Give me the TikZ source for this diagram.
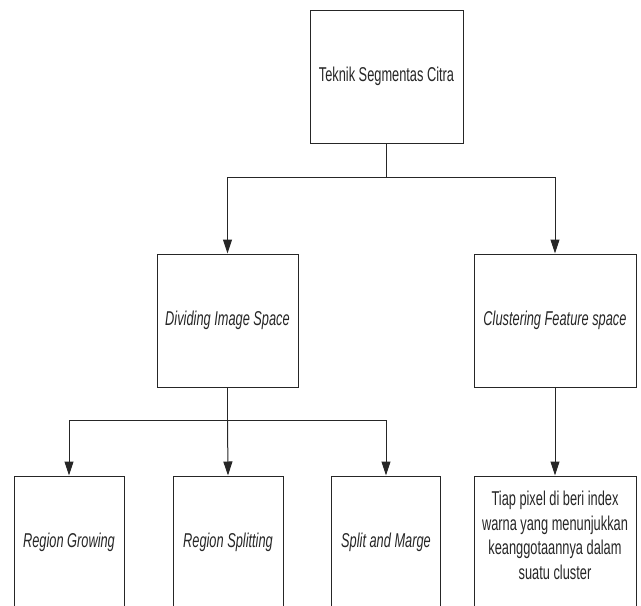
\documentclass[tikz,border=0pt]{standalone}
\usepackage{fontspec}
\setmainfont[FakeStretch=0.64]{Liberation Sans}
\usetikzlibrary{arrows.meta}

\begin{document}
\begin{tikzpicture}[x=1pt,y=-1pt,
	kotak/.style={draw=black!85, line width=1pt, minimum height=133pt, inner sep=0pt, align=center, text=black!85, font=\fontsize{20}{24.5}\selectfont},
	panah/.style={draw=black!85, line width=1pt, -{Triangle[length=14pt,width=9pt]}},
	garis/.style={draw=black!85, line width=1pt}]
		\useasboundingbox (0,0) rectangle (641,606);
		\clip (0,0) rectangle (641,606);
		% level atas
		\node (teknik) at (386.5,76.5)[kotak, minimum width=153pt]{Teknik Segmentas Citra} ;
		% level tengah
		\node (dividing) at (227.5,320.5)[kotak, minimum width=141pt]{\itshape Dividing Image Space} ;
		\node (clustering) at (555,320.5)[kotak, minimum width=162pt]{\itshape Clustering Feature space} ;
		% level bawah
		\node (growing) at (69,542.5)[kotak, minimum width=110pt]{\itshape Region Growing} ;
		\node (splitting) at (228,542.5)[kotak, minimum width=110pt]{\itshape Region Splitting} ;
		\node (marge) at (386,542.5)[kotak, minimum width=109pt]{\itshape Split and Marge} ;
		\node (tiap) at (555,542.5)[kotak, minimum width=162pt, text depth=15pt]{Tiap pixel di beri index\\warna yang menunjukkan\\keanggotaannya dalam\\suatu cluster} ;
		% cabang
		\coordinate (cabangA) at (386.5,177) ;
		\coordinate (cabangB) at (227.5,420) ;
		\draw[garis] (teknik) -- (cabangA) ;
		\draw[panah] (cabangA) -| (dividing.north) ;
		\draw[panah] (cabangA) -| (clustering.north) ;
		\draw[garis] (dividing) -- (cabangB) ;
		\draw[panah] (cabangB) -| (growing.north) ;
		\draw[panah] (cabangB) -- (splitting.north) ;
		\draw[panah] (cabangB) -| (marge.north) ;
		\draw[panah] (clustering) -- (tiap) ;
\end{tikzpicture}
\end{document}
